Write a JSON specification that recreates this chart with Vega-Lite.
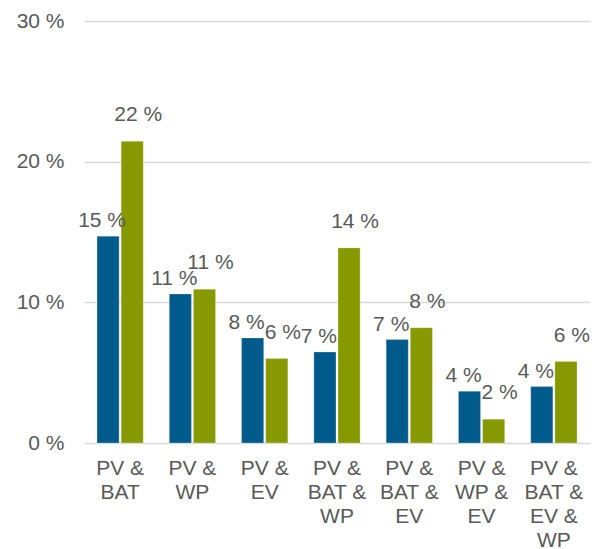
{
  "$schema": "https://vega.github.io/schema/vega-lite/v6.json",
  "autosize": "none",
  "width": 506,
  "height": 422,
  "padding": {"left": 84, "top": 21, "right": 2, "bottom": 106},
  "background": "white",
  "config": {
    "view": {"stroke": null},
    "font": "Liberation Sans",
    "axis": {"labelFont": "Liberation Sans", "labelFontSize": 21, "labelColor": "#595959"}
  },
  "data": {
    "values": [
      {"kombination": "PV & BAT", "serie": "Serie 1", "anteil": 14.7, "label": "15 %"},
      {"kombination": "PV & BAT", "serie": "Serie 2", "anteil": 21.45, "label": "22 %"},
      {"kombination": "PV & WP", "serie": "Serie 1", "anteil": 10.6, "label": "11 %"},
      {"kombination": "PV & WP", "serie": "Serie 2", "anteil": 10.93, "label": "11 %"},
      {"kombination": "PV & EV", "serie": "Serie 1", "anteil": 7.47, "label": "8 %"},
      {"kombination": "PV & EV", "serie": "Serie 2", "anteil": 6.0, "label": "6 %"},
      {"kombination": "PV & BAT & WP", "serie": "Serie 1", "anteil": 6.47, "label": "7 %"},
      {"kombination": "PV & BAT & WP", "serie": "Serie 2", "anteil": 13.87, "label": "14 %"},
      {"kombination": "PV & BAT & EV", "serie": "Serie 1", "anteil": 7.35, "label": "7 %"},
      {"kombination": "PV & BAT & EV", "serie": "Serie 2", "anteil": 8.2, "label": "8 %"},
      {"kombination": "PV & WP & EV", "serie": "Serie 1", "anteil": 3.68, "label": "4 %"},
      {"kombination": "PV & WP & EV", "serie": "Serie 2", "anteil": 1.69, "label": "2 %"},
      {"kombination": "PV & BAT & EV & WP", "serie": "Serie 1", "anteil": 4.01, "label": "4 %"},
      {"kombination": "PV & BAT & EV & WP", "serie": "Serie 2", "anteil": 5.79, "label": "6 %"}
    ]
  },
  "encoding": {
    "x": {
      "field": "kombination",
      "type": "nominal",
      "sort": null,
      "scale": {"paddingInner": 0.36, "paddingOuter": 0.18},
      "axis": {
        "title": null,
        "labelAngle": 0,
        "ticks": false,
        "domain": false,
        "labelPadding": 14,
        "labelLineHeight": 24,
        "labelBaseline": "top",
        "labelExpr": "split(replace(datum.value, regexp(' & ', 'g'), ' &|'), '|')"
      }
    },
    "xOffset": {
      "field": "serie",
      "type": "nominal",
      "scale": {"paddingInner": 0.0833, "paddingOuter": 0}
    },
    "y": {
      "field": "anteil",
      "type": "quantitative",
      "scale": {"domain": [0, 30], "nice": false},
      "axis": {
        "title": null,
        "values": [0, 10, 20, 30],
        "labelExpr": "datum.value + ' %'",
        "domain": false,
        "ticks": false,
        "labelPadding": 20,
        "grid": true,
        "gridColor": "#d9d9d9",
        "gridWidth": 1.5
      }
    }
  },
  "layer": [
    {
      "mark": {"type": "bar", "stroke": "#ffffff", "strokeOpacity": 0.25, "strokeWidth": 1},
      "encoding": {
        "color": {
          "field": "serie",
          "type": "nominal",
          "scale": {"domain": ["Serie 1", "Serie 2"], "range": ["#005a8c", "#869a00"]},
          "legend": null
        }
      }
    },
    {
      "transform": [{"filter": "datum.serie === 'Serie 1'"}],
      "mark": {"type": "text", "baseline": "alphabetic", "align": "center", "dy": -9, "dx": -6, "fontSize": 21, "color": "#595959"},
      "encoding": {"text": {"field": "label"}}
    },
    {
      "transform": [{"filter": "datum.serie === 'Serie 2'"}],
      "mark": {"type": "text", "baseline": "alphabetic", "align": "center", "dy": -20, "dx": 6, "fontSize": 21, "color": "#595959"},
      "encoding": {"text": {"field": "label"}}
    }
  ]
}
